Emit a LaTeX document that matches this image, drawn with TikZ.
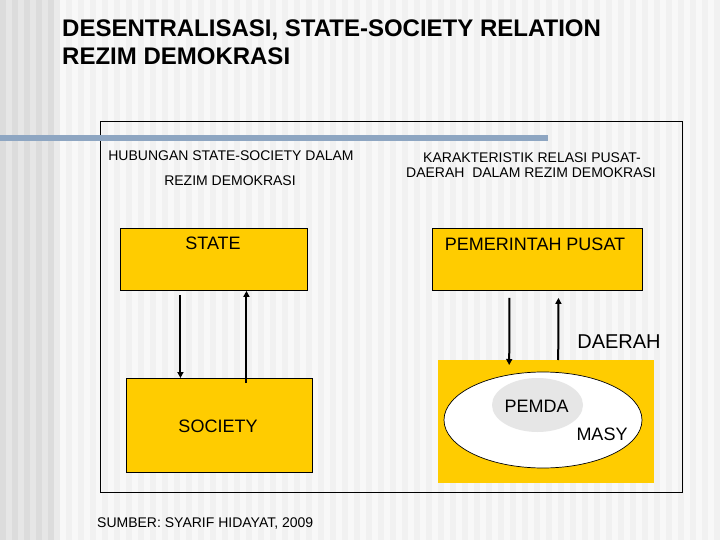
\documentclass[tikz,border=0pt]{standalone}
\usepackage{fontspec}
\setmainfont{Liberation Sans}
\usetikzlibrary{arrows.meta,shapes.geometric}
\definecolor{gold}{HTML}{FFCC00}
\definecolor{barblue}{HTML}{8EA6C2}
\definecolor{bgA}{HTML}{F1F1F1}
\definecolor{bgB}{HTML}{F8F8F8}
\definecolor{bgC}{HTML}{DCDCDC}
\definecolor{bgD}{HTML}{E6E6E6}
\definecolor{pemdagray}{HTML}{E6E6E6}
\tikzset{
  goldbox/.style={draw=black, line width=0.9pt, fill=gold, inner sep=0pt},
  txt/.style={inner sep=0pt, anchor=base, text=black},
  arr/.style={line width=2pt, -{Triangle[length=6pt,width=6pt]}},
  big/.style={font=\fontsize{18}{21}\selectfont},
  small/.style={font=\fontsize{14}{16}\selectfont},
}
\begin{document}
\begin{tikzpicture}[x=1pt,y=-1pt]
\useasboundingbox (0,0) rectangle (720,540);
% background
\fill[bgA] (0,0) rectangle (720,540);
\foreach \i in {0,12,...,708} {\fill[bgB] (\i,0) rectangle (\i+6,540);}
\fill[bgC] (0,0) rectangle (54,540);
\foreach \i in {0,12,...,48} {\fill[bgD] (\i+6,0) rectangle (\i+12,540);}
\fill[bgD!60!bgA] (54,0) rectangle (60,540);
% title
\node[txt, anchor=base west, font=\fontsize{24}{28}\selectfont\bfseries] (t1) at (62,37) {DESENTRALISASI, STATE-SOCIETY RELATION};
\node[txt, anchor=base west, font=\fontsize{24}{28}\selectfont\bfseries] (t2) at (62,65) {REZIM DEMOKRASI};
% frame
\node[draw=black, line width=0.9pt, minimum width=582pt, minimum height=371pt, inner sep=0pt, anchor=north west] (frame) at (100,121) {};
% blue bar
\fill[barblue] (0,135) rectangle (548,141);
% headers
\node[txt, small] (hl1) at (231,161) {HUBUNGAN STATE-SOCIETY DALAM};
\node[txt, small] (hl2) at (230,186) {REZIM DEMOKRASI};
\node[txt, small] (hr1) at (532,163) {KARAKTERISTIK RELASI PUSAT-};
\node[txt, small] (hr2) at (531,178) {DAERAH\ \ DALAM REZIM DEMOKRASI};
% boxes
\node[goldbox, minimum width=187pt, minimum height=62pt, anchor=north west] (state) at (120,228) {};
\node[txt, big] (statet) at (213,249) {STATE};
\node[goldbox, minimum width=210pt, minimum height=62pt, anchor=north west] (pusat) at (432,228) {};
\node[txt, big] (pusatt) at (535,250) {PEMERINTAH PUSAT};
\node[goldbox, minimum width=186pt, minimum height=94pt, anchor=north west] (society) at (126,378) {};
\node[txt, big] (societyt) at (218,432) {SOCIETY};
\node[txt, font=\fontsize{20}{24}\selectfont] (daerah) at (619,348) {DAERAH};
\node[fill=gold, minimum width=216pt, minimum height=123pt, inner sep=0pt, anchor=north west] (dbox) at (438,360) {};
\node[ellipse, draw=black, line width=0.7pt, fill=white, minimum width=198pt, minimum height=96pt, inner sep=0pt] (masyell) at (543,420) {};
\node[ellipse, fill=pemdagray, minimum width=91pt, minimum height=54pt, inner sep=0pt] (pemdaell) at (537.5,405) {};
\node[txt, big] (pemda) at (536.5,412) {PEMDA};
\node[txt, big] (masy) at (602,440) {MASY};
% arrows
\draw[arr] ([xshift=-33.5pt,yshift=-4pt]state.south) -- ([xshift=-39pt]society.north);
\draw[arr] ([xshift=27pt,yshift=-5pt]society.north) -- ([xshift=32.5pt]state.south);
\draw[arr] ([xshift=-28pt,yshift=-7pt]pusat.south) -- ([xshift=-37pt,yshift=-5pt]dbox.north);
\draw[arr] ([xshift=12pt]dbox.north) -- ([xshift=21pt,yshift=-7pt]pusat.south);
% source
\node[txt, small, anchor=base west] (src) at (97,527) {SUMBER: SYARIF HIDAYAT, 2009};
\end{tikzpicture}
\end{document}
